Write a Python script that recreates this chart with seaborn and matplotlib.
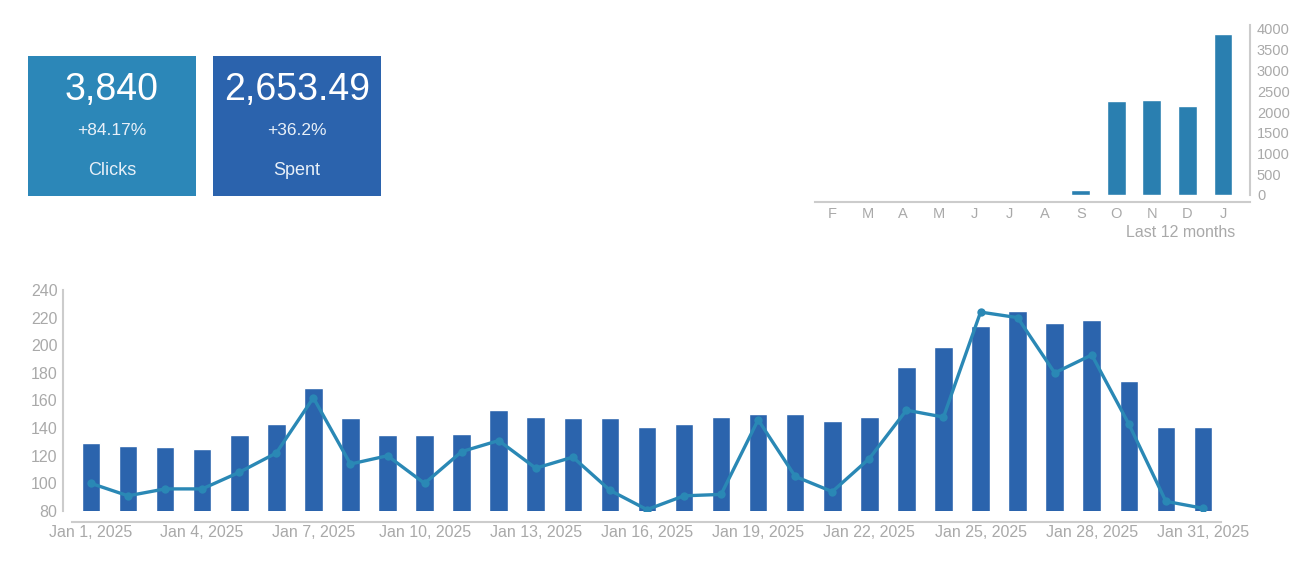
import numpy as np
import pandas as pd
import matplotlib
matplotlib.use("Agg")
import matplotlib.pyplot as plt
import seaborn as sns

# KPI tiles
kpi_values = ["3,840", "2,653.49"]
kpi_changes = ["+84.17%", "+36.2%"]
kpi_names = ["Clicks", "Spent"]
kpi_colors = ["#2c87b8", "#2b63ad"]

# last 12 months
month_labels = ["F", "M", "A", "M", "J", "J", "A", "S", "O", "N", "D", "J"]
month_clicks = [0, 0, 0, 0, 0, 0, 0, 110, 2260, 2290, 2135, 3890]

# daily (January 2025)
day_labels = [f"Jan {d}, 2025" for d in range(1, 32)]
daily_clicks = [129, 127, 126, 125, 135, 143, 169, 147, 135, 135,
                136, 153, 148, 147, 147, 141, 143, 148, 150, 150,
                145, 148, 184, 199, 214, 225, 216, 218, 174, 141, 141]
daily_spent = [100, 91, 96, 96, 108, 122, 162, 114, 120, 100,
               123, 131, 111, 119, 95, 81, 91, 92, 146, 105,
               94, 118, 153, 148, 224, 220, 180, 193, 143, 87, 82]

sns.set_theme(style="white")
plt.rcParams["font.family"] = ["Liberation Sans", "DejaVu Sans"]
grey = "#a9a9a9"
axis_grey = "#cccccc"

W, H = 1309, 568
fig = plt.figure(figsize=(W / 100, H / 100), dpi=100)


def px_axes(left, top, right, bottom):
    return fig.add_axes([left / W, 1 - bottom / H, (right - left) / W, (bottom - top) / H])


# --- KPI tiles ---
for i, left in enumerate([28, 213]):
    kax = px_axes(left, 56, left + 168, 196)
    kax.set_facecolor(kpi_colors[i])
    kax.set_xticks([])
    kax.set_yticks([])
    for s in kax.spines.values():
        s.set_visible(False)
    kax.text(0.5, 0.755, kpi_values[i], color="white", fontsize=27, ha="center", va="center",
             transform=kax.transAxes)
    kax.text(0.5, 0.47, kpi_changes[i], color="#e8f0f8", fontsize=12.5, ha="center", va="center",
             transform=kax.transAxes)
    kax.text(0.5, 0.18, kpi_names[i], color="#e8f0f8", fontsize=13, ha="center", va="center",
             transform=kax.transAxes)

# --- last 12 months ---
sax = px_axes(815, 29, 1250, 195)
mdf = pd.DataFrame({"idx": np.arange(len(month_labels)), "clicks": month_clicks})
sns.barplot(data=mdf, x="idx", y="clicks", color="#2a7fb0", saturation=1, width=0.53, ax=sax)
sax.set_xlim(-0.48, 11.76)
sax.set_ylim(0, 4000)
sax.set_xticks(np.arange(12))
sax.set_xticklabels(month_labels)
sax.set_yticks(np.arange(0, 4001, 500))
sax.yaxis.tick_right()
sax.set_xlabel("")
sax.set_ylabel("")
sax.tick_params(length=0, colors=grey, labelsize=10.5)
sax.tick_params(axis="y", pad=5)
sax.tick_params(axis="x", pad=4)
for s in ["top", "left"]:
    sax.spines[s].set_visible(False)
sax.spines["bottom"].set_position(("outward", 5))
sax.spines["bottom"].set_color(axis_grey)
sax.spines["bottom"].set_linewidth(1.5)
sax.spines["right"].set_color(axis_grey)
sax.spines["right"].set_linewidth(1.5)
sax.spines["right"].set_bounds(0, 4100)
sax.text(1.0 - 15 / 435, -0.225, "Last 12 months", color=grey, fontsize=11.5, ha="right", va="center",
         transform=sax.transAxes)

# --- daily chart ---
ax = px_axes(63, 290, 1240, 511)
ddf = pd.DataFrame({"idx": np.arange(len(day_labels)), "clicks": daily_clicks, "spent": daily_spent})
sns.barplot(data=ddf, x="idx", y="clicks", color="#2b64ad", saturation=1, width=0.5, ax=ax)
sns.lineplot(data=ddf, x="idx", y="spent", color="#2a88b5", linewidth=2.4, marker="o",
             markersize=6, markeredgewidth=0, ax=ax)
ax.set_xlim(-0.755, 31.0)
ax.set_ylim(80, 240)
ax.set_xticks(np.arange(0, 31, 3))
ax.set_xticklabels(day_labels[::3])
ax.set_yticks(np.arange(80, 241, 20))
ax.set_xlabel("")
ax.set_ylabel("")
ax.tick_params(length=0, colors=grey, labelsize=11.5)
ax.tick_params(axis="y", pad=4)
ax.tick_params(axis="x", pad=2)
for s in ["top", "right"]:
    ax.spines[s].set_visible(False)
ax.spines["left"].set_color(axis_grey)
ax.spines["left"].set_linewidth(1.5)
ax.spines["bottom"].set_position(("outward", 8))
ax.spines["bottom"].set_color(axis_grey)
ax.spines["bottom"].set_linewidth(1.5)
ax.spines["bottom"].set_bounds(-0.5, 30.5)

fig.savefig("out.png", dpi=100)
